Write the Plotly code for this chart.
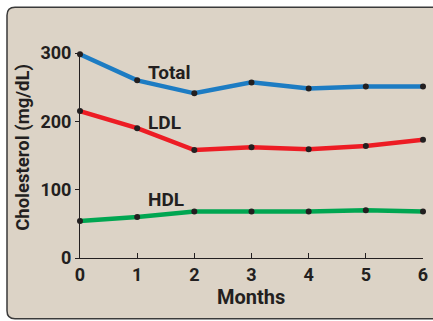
import plotly.graph_objects as go

months = [0, 1, 2, 3, 4, 5, 6]
total = [298, 260, 241, 257, 248, 251, 251]
ldl = [215, 190, 158, 162, 159, 164, 173]
hdl = [54, 60, 68, 68, 68, 70, 68]

series = [
    ("Total", total, "#1d7cc3", 272),
    ("LDL", ldl, "#ed1c24", 199),
    ("HDL", hdl, "#00a651", 86),
]

FONT = "Roboto"
INK = "#231f20"

fig = go.Figure()
for name, vals, color, _ in series:
    fig.add_trace(go.Scatter(
        x=months, y=vals, mode="lines", name=name,
        line=dict(color=color, width=4.5), cliponaxis=False,
        showlegend=False, hoverinfo="skip",
    ))
for name, vals, color, _ in series:
    fig.add_trace(go.Scatter(
        x=months, y=vals, mode="markers", name=name,
        marker=dict(color=INK, size=6), cliponaxis=False,
        showlegend=False,
    ))

# series labels
for name, _, _, ylab in series:
    fig.add_annotation(
        x=1.19, y=ylab, text=f"<b>{name}</b>", showarrow=False,
        xanchor="left", yanchor="middle", xshift=-2,
        font=dict(family=FONT, size=19, color=INK),
    )

# axis titles as annotations for exact placement
fig.add_annotation(
    xref="paper", yref="paper", x=(23 - 80) / 343, y=(257.7 - 147.5) / 205,
    xanchor="center", yanchor="middle",
    text="<b>Cholesterol (mg/dL)</b>", textangle=-90, showarrow=False,
    font=dict(family=FONT, size=18.5, color=INK),
)
fig.add_annotation(
    xref="paper", yref="paper", x=(251 - 80) / 343, y=(257.7 - 297) / 205,
    xanchor="center", yanchor="middle",
    text="<b>Months</b>", showarrow=False,
    font=dict(family=FONT, size=20, color=INK),
)

# rounded beige panel, running off the right edge
x0, x1 = (7 - 80) / 343, (480 - 80) / 343
y0, y1 = (257.7 - 318.5) / 205, (257.7 - 7) / 205
rx, ry = 8 / 343, 8 / 205
path = (
    f"M {x0 + rx} {y1} L {x1 - rx} {y1} Q {x1} {y1} {x1} {y1 - ry} "
    f"L {x1} {y0 + ry} Q {x1} {y0} {x1 - rx} {y0} "
    f"L {x0 + rx} {y0} Q {x0} {y0} {x0} {y0 + ry} "
    f"L {x0} {y1 - ry} Q {x0} {y1} {x0 + rx} {y1} Z"
)
fig.add_shape(
    type="path", xref="paper", yref="paper", path=path, layer="below",
    fillcolor="#dcd3c6", line=dict(color="#3a3a3a", width=1.5),
)

fig.update_xaxes(
    range=[0, 6], tickvals=months, ticktext=[f"<b>{m}</b>" for m in months],
    showgrid=False, zeroline=False, showline=True, linecolor=INK, linewidth=1,
    ticks="inside", ticklen=5, tickcolor=INK, automargin=False,
    tickfont=dict(family=FONT, size=18, color=INK),
)
fig.update_yaxes(
    range=[0, 300], tickvals=[0, 100, 200, 300],
    ticktext=["<b>0</b>", "<b>100</b>", "<b>200</b>", "<b>300</b>"],
    showgrid=False, zeroline=False, showline=True, linecolor=INK, linewidth=1,
    ticks="outside", ticklen=4, tickcolor=INK, automargin=False,
    tickfont=dict(family=FONT, size=18, color=INK),
)
fig.update_layout(
    width=433, height=321,
    margin=dict(l=80, r=10, t=52.7, b=63.3),
    paper_bgcolor="white", plot_bgcolor="rgba(0,0,0,0)",
)
fig.write_html(
    "out.html",
    config={"displayModeBar": False},
    post_script="document.body.style.margin='0';document.body.style.overflow='hidden';",
)
